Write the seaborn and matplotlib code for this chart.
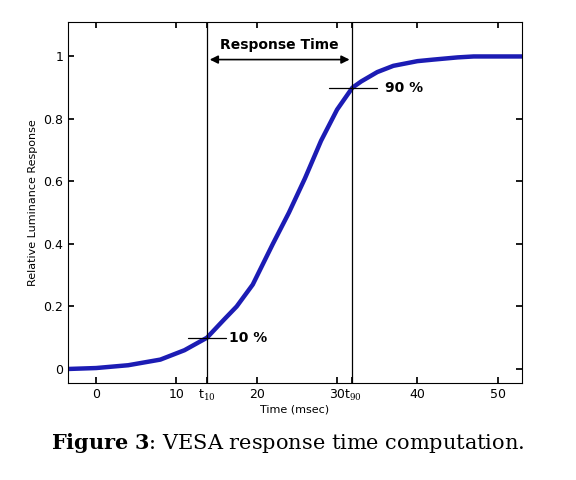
import matplotlib
matplotlib.use("Agg")
import matplotlib.pyplot as plt
import seaborn as sns

sns.set_theme(style="white")
plt.rcParams['font.family'] = ['DejaVu Sans']
plt.rcParams['mathtext.fontset'] = 'dejavuserif'
plt.rcParams['text.color'] = 'black'

# curve
time_ms = [-3.5, 0, 4, 8, 11, 13.8, 16, 17.5, 19.5, 22, 24, 26, 28, 30, 31.9, 33, 35, 37, 40, 42, 45, 47, 50, 53]
response = [0.0, 0.003, 0.012, 0.03, 0.06, 0.10, 0.16, 0.20, 0.27, 0.40, 0.50, 0.61, 0.73, 0.83, 0.90, 0.92, 0.95, 0.97, 0.985, 0.99, 0.997, 1.0, 1.0, 1.0]
t10, t90 = 13.8, 31.9
x_ticks = [0, 10, 20, 30, 40, 50]
y_ticks = [0, 0.2, 0.4, 0.6, 0.8, 1]

fig = plt.figure(figsize=(5.76, 4.8), dpi=100)
ax = fig.add_axes([0.118, 0.202, 0.788, 0.752])
sns.lineplot(x=time_ms, y=response, ax=ax, color="#1c1cb4", linewidth=3.2)

ax.set_xlim(-3.5, 53)
ax.set_ylim(-0.045, 1.11)
for s in ax.spines.values():
    s.set_color("black")
    s.set_linewidth(0.8)

ax.axvline(t10, color="black", lw=0.9)
ax.axvline(t90, color="black", lw=0.9)
ax.plot([11.5, 16.2], [0.1, 0.1], color="black", lw=0.9)
ax.plot([29, 35], [0.9, 0.9], color="black", lw=0.9)
ax.text(16.6, 0.1, "10 %", fontsize=10, fontweight="bold", va="center")
ax.text(36.0, 0.9, "90 %", fontsize=10, fontweight="bold", va="center")
ax.annotate("", xy=(t10, 0.99), xytext=(t90, 0.99),
            arrowprops=dict(arrowstyle="<|-|>", color="black", lw=1.2))
ax.text((t10 + t90) / 2, 1.015, "Response Time", fontsize=10, fontweight="bold",
        ha="center", va="bottom")

ax.set_xticks(x_ticks + [t10, t90])
ax.set_xticklabels([str(v) for v in x_ticks] + ["t$_{10}$", "t$_{90}$"])
ax.set_yticks(y_ticks)
ax.set_yticklabels(["0", "0.2", "0.4", "0.6", "0.8", "1"])
ax.tick_params(direction="in", length=4, labelsize=9, top=True, right=True,
               bottom=True, left=True, color="black", labelcolor="black")
ax.set_xlabel("Time (msec)", fontsize=8, labelpad=1, color="black")
ax.set_ylabel("Relative Luminance Response", fontsize=8, color="black")

fig.text(0.5, 0.065, r"$\mathbf{Figure\ 3}$: VESA response time computation.",
         ha="center", fontsize=15, family="DejaVu Serif")
fig.savefig("out.png", dpi=100)
